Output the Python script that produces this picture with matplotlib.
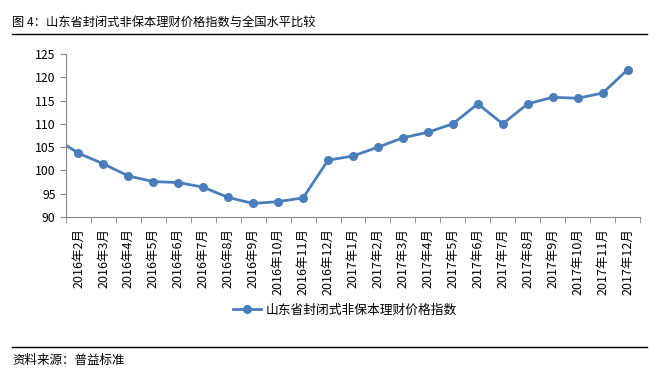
import numpy as np
import matplotlib.pyplot as plt

plt.rcParams['font.family'] = ['Noto Sans CJK SC', 'DejaVu Sans']

title = '图 4：山东省封闭式非保本理财价格指数与全国水平比较'
source = '资料来源：普益标准'
series_name = '山东省封闭式非保本理财价格指数'

# first value is 2016年1月, only its segment shows at the left edge
months = ['2016年1月',
          '2016年2月', '2016年3月', '2016年4月', '2016年5月', '2016年6月', '2016年7月',
          '2016年8月', '2016年9月', '2016年10月', '2016年11月', '2016年12月',
          '2017年1月', '2017年2月', '2017年3月', '2017年4月', '2017年5月', '2017年6月',
          '2017年7月', '2017年8月', '2017年9月', '2017年10月', '2017年11月', '2017年12月']
values = [107.1,
          103.7, 101.4, 98.8, 97.6, 97.4, 96.4, 94.2, 92.9, 93.3, 94.1, 102.2,
          103.1, 105.0, 107.0, 108.2, 110.0, 114.3, 110.0, 114.3, 115.7, 115.5, 116.6, 121.6]
yticks = [90, 95, 100, 105, 110, 115, 120, 125]

color = '#4A7EBB'
x = np.arange(len(months))

fig = plt.figure(figsize=(6.59, 3.87), dpi=100)
ax = fig.add_axes([66 / 659, 1 - 217 / 387, (640 - 66) / 659, (217 - 54) / 387])

line, = ax.plot(x, values, color=color, lw=2, marker='o', ms=5.5,
                markerfacecolor=color, markeredgecolor=color, label=series_name)

ax.set_xlim(0.5, len(months) - 0.5)
ax.set_ylim(90, 125)
ax.set_yticks(yticks)
ax.set_xticks(x[1:])
ax.set_xticklabels(months[1:], rotation=90, fontsize=9)
ax.set_xticks(np.arange(0.5, len(months), 1), minor=True)
ax.tick_params(axis='x', which='major', length=0, pad=8)
ax.tick_params(axis='x', which='minor', length=4, color='#868686', direction='out')
ax.tick_params(axis='y', length=4, color='#868686', direction='out', labelsize=8.8)

for s in ['top', 'right']:
    ax.spines[s].set_visible(False)
for s in ['left', 'bottom']:
    ax.spines[s].set_color('#868686')

fig.legend(handles=[line], loc='center', bbox_to_anchor=(345 / 659, 1 - 310 / 387),
           frameon=False, fontsize=9.2, handlelength=2.2, handletextpad=0.4)

fig.text(12 / 659, 1 - 22 / 387, title, fontsize=8.8, va='center', ha='left')
fig.add_artist(plt.Line2D([12 / 659, 647 / 659], [1 - 34 / 387] * 2, color='black', lw=1))
fig.add_artist(plt.Line2D([12 / 659, 647 / 659], [1 - 347 / 387] * 2, color='black', lw=1))
fig.text(12 / 659, 1 - 360 / 387, source, fontsize=9, va='center', ha='left')

fig.savefig('out.png', dpi=100)
